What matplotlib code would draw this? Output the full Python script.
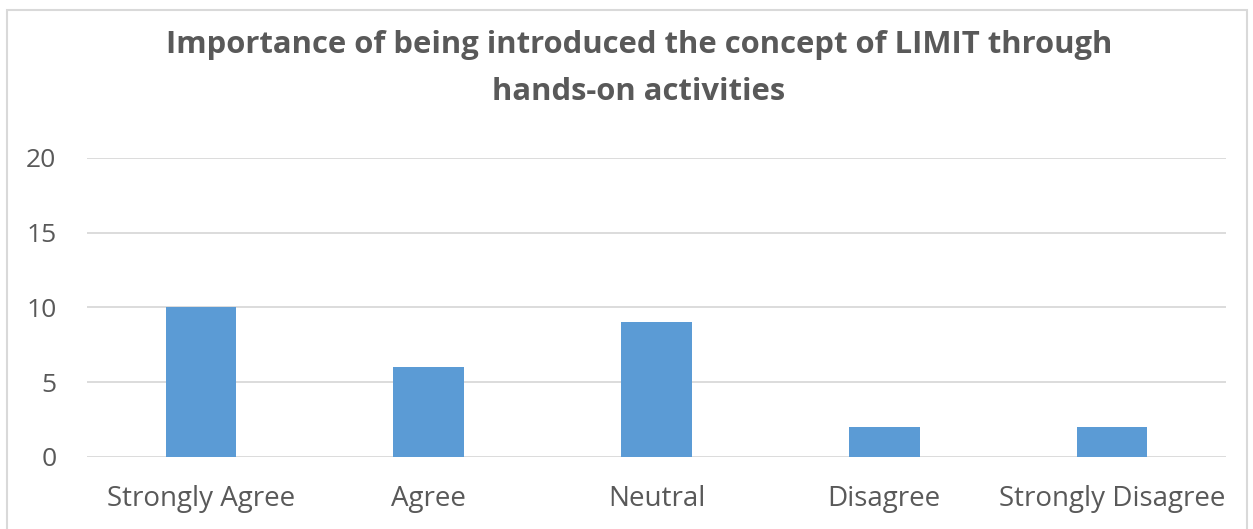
import matplotlib.pyplot as plt
from matplotlib.patches import Rectangle

categories = ['Strongly Agree', 'Agree', 'Neutral', 'Disagree', 'Strongly Disagree']
counts = [10, 6, 9, 2, 2]
yticks = [0, 5, 10, 15, 20]
title = 'Importance of being introduced the concept of LIMIT through\nhands-on activities'

W, H = 1253, 529
text_col = '#595959'
grid_col = '#D9D9D9'
bar_col = '#5B9BD5'

plt.rcParams['font.family'] = ['Open Sans', 'DejaVu Sans']

fig = plt.figure(figsize=(W / 100, H / 100), dpi=100)
ax = fig.add_axes([87 / W, 1 - 457 / H, (1226 - 87) / W, (457 - 157.7) / H])

x = range(len(categories))
ax.bar(x, counts, width=0.31, color=bar_col, zorder=3)

ax.set_xlim(-0.5, len(categories) - 0.5)
ax.set_ylim(0, 20)
ax.set_yticks(yticks)
ax.set_xticks(list(x))
ax.set_xticklabels(categories)
ax.yaxis.grid(True, color=grid_col, linewidth=1.3, zorder=0)
ax.set_axisbelow(True)
for s in ax.spines.values():
    s.set_visible(False)
ax.tick_params(axis='both', length=0, labelcolor=text_col)
ax.tick_params(axis='y', pad=22, labelsize=19)
ax.tick_params(axis='x', pad=20, labelsize=20)

# two-line title, each line placed on its own baseline
for i, line in enumerate(title.split('\n')):
    fig.text(639 / W, 1 - (53 + 47 * i) / H, line, ha='center', va='baseline',
             fontsize=22.3, fontweight='bold', color=text_col)

# chart area border
fig.patches.append(Rectangle((7 / W, -0.01), (1247 - 7) / W, 1 - 10 / H + 0.01,
                             transform=fig.transFigure, fill=False,
                             edgecolor=grid_col, linewidth=1.5))

fig.savefig('out.png', dpi=100)
